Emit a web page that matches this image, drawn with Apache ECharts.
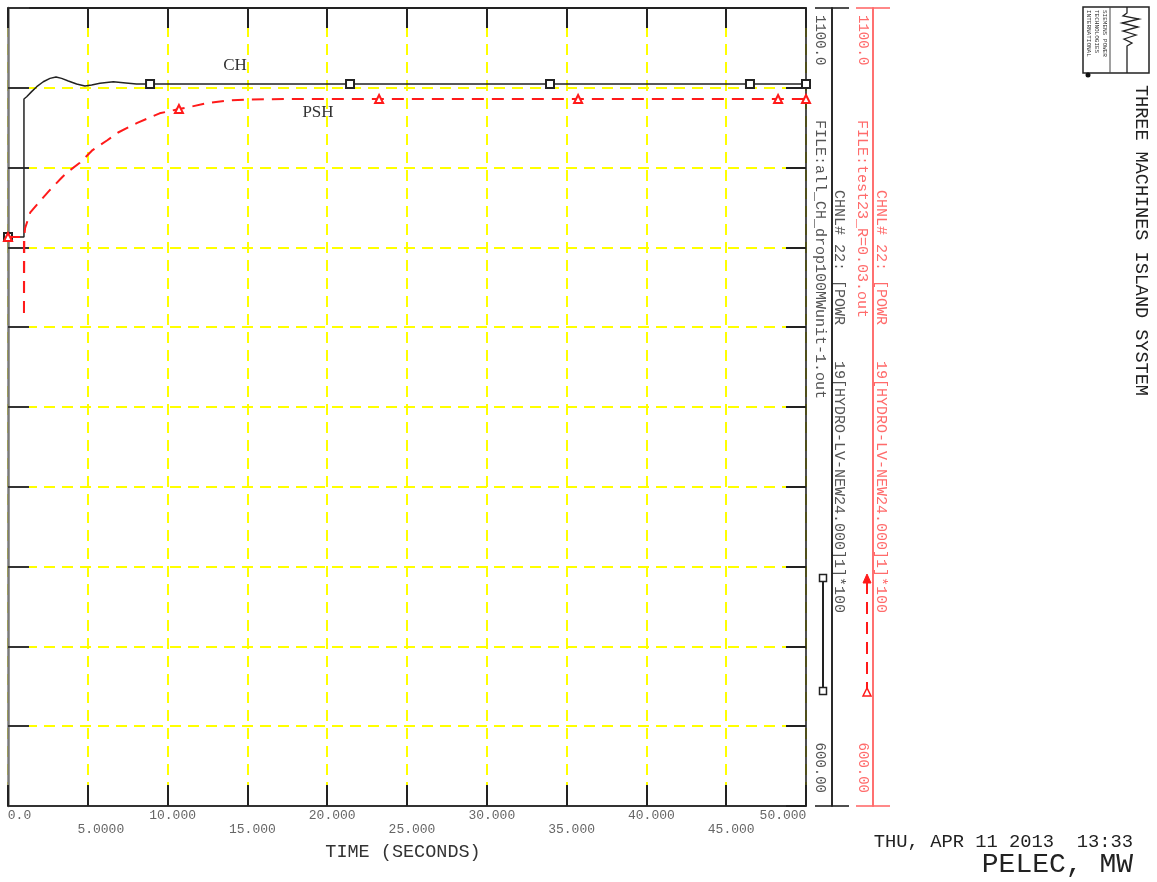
<!DOCTYPE html>
<html>
<head>
<meta charset="utf-8">
<title>PELEC, MW</title>
<script src="https://cdn.jsdelivr.net/npm/echarts@6/dist/echarts.min.js"></script>
<style>
  html, body { margin: 0; padding: 0; background: #ffffff; }
  #chart { width: 1157px; height: 882px; }
</style>
</head>
<body>
<div id="chart"></div>
<script>
// ---- data -------------------------------------------------------------
// time axis ticks (seconds) and their printed labels
const xTickLabels = ['0.0', '5.0000', '10.000', '15.000', '20.000', '25.000',
                     '30.000', '35.000', '40.000', '45.000', '50.000'];
// power axis end labels (MW), bottom then top
const yTickLabels = ['600.00', '1100.0'];

// CH electrical power (MW) vs time (s)
const chTime  = [0, 1.0, 1.0, 1.17, 1.48, 1.80, 2.21, 2.63, 3.01, 3.36, 3.78, 4.30,
                 4.82, 5.24, 5.76, 6.60, 7.22, 8.05, 8.90, 21.43, 33.96, 46.49, 50.0];
const chPower = [956.5, 956.5, 1043.0, 1044.4, 1047.6, 1050.7, 1053.8, 1055.9, 1056.8,
                 1055.9, 1054.3, 1052.4, 1051.1, 1051.8, 1052.8, 1053.8, 1053.2, 1052.4,
                 1052.4, 1052.4, 1052.4, 1052.4, 1052.4];
const chMarkTimes = [0, 8.90, 21.43, 33.96, 46.49, 50.0];

// PSH electrical power (MW) vs time (s)
const pshTime  = [0, 1.0, 1.0, 1.02, 1.07, 1.40, 2.00, 2.63, 3.30, 3.70, 4.50, 5.30,
                  6.20, 6.90, 8.10, 8.80, 9.50, 10.71, 11.40, 12.50, 13.70, 15.00,
                  17.60, 23.25, 35.72, 48.25, 50.0];
const pshPower = [956.5, 956.5, 906.4, 956.5, 962.0, 972.0, 979.0, 986.0, 993.0, 997.0,
                  1003.0, 1011.0, 1017.0, 1022.0, 1028.0, 1031.0, 1034.0, 1036.7, 1038.0,
                  1040.5, 1042.0, 1042.6, 1043.0, 1043.0, 1043.0, 1043.0, 1043.0];
const pshMarkTimes = [0, 10.71, 23.25, 35.72, 48.25, 50.0];

// ---- helpers ------------------------------------------------------------
const MONO = '"Liberation Mono", "DejaVu Sans Mono", monospace';
const SERIF = '"Liberation Serif", "DejaVu Serif", serif';
const RED = '#ff1a1a';
const RED_AXIS = '#ff6b6b';
const X_MIN = 0, X_MAX = 50, X_STEP = 5;
const Y_MIN = 600, Y_MAX = 1100, Y_STEP = 50;
const CHNL_TEXT = 'CHNL# 22: [POWR    19[HYDRO-LV-NEW24.000]1]*100';

function pointsWithMarkers(times, values, markTimes, symbol, size) {
  return times.map(function (t, i) {
    const item = { value: [t, values[i]] };
    const firstAtTime = !(i > 0 && times[i - 1] === t);
    if (firstAtTime && markTimes.indexOf(t) >= 0) {
      item.symbol = symbol;
      item.symbolSize = size;
    }
    return item;
  });
}

const hidden = { show: false };
function xBase(extra) {
  return Object.assign({
    type: 'value', min: X_MIN, max: X_MAX, interval: X_STEP,
    axisLine: { show: false, onZero: false }, axisTick: hidden,
    axisLabel: hidden, splitLine: hidden
  }, extra);
}
function yBase(extra) {
  return Object.assign({
    type: 'value', min: Y_MIN, max: Y_MAX, interval: Y_STEP,
    axisLine: { show: false, onZero: false }, axisTick: hidden,
    axisLabel: hidden, splitLine: hidden
  }, extra);
}

// side scale on the right: a vertical bar with short caps and rotated end labels
function sideScale(offset, color, labelColor, margin, showIndex, tickInside) {
  return yBase({
    position: 'right', offset: offset, interval: Y_MAX - Y_MIN, z: 1,
    axisLine: { show: true, onZero: false, lineStyle: { color: color, width: 1.6 } },
    axisTick: { show: true, inside: tickInside, length: 17, lineStyle: { color: color, width: 1.6 } },
    axisLabel: {
      show: true, inside: true, rotate: -90, margin: margin,
      align: showIndex === 1 ? 'left' : 'right', verticalAlign: 'middle',
      padding: showIndex === 1 ? [0, 0, 0, 7] : [0, 13, 0, 0],
      color: labelColor, fontFamily: MONO, fontSize: 14,
      showMinLabel: true, showMaxLabel: true,
      formatter: function (v) {
        const i = Math.round((v - Y_MIN) / (Y_MAX - Y_MIN));
        return i === showIndex ? yTickLabels[i] : '';
      }
    }
  });
}

const richBase = { fontFamily: MONO, fontSize: 13, color: '#666', lineHeight: 14 };

const option = {
  animation: false,
  backgroundColor: '#ffffff',
  textStyle: { fontFamily: MONO },
  grid: { left: 8, top: 8, width: 798, height: 798, containLabel: false, outerBoundsMode: 'none' },
  xAxis: [
    // dashed yellow grid
    xBase({ position: 'bottom', z: 0,
      splitLine: { show: true, lineStyle: { color: '#ffff00', width: 2, type: [11, 7] } } }),
    // bottom frame, ticks, labels, title
    xBase({ position: 'bottom', z: 1,
      axisLine: { show: true, onZero: false, lineStyle: { color: '#333', width: 2 } },
      axisTick: { show: true, inside: true, length: 21, lineStyle: { color: '#222', width: 2 } },
      axisLabel: {
        show: true, margin: 3, showMinLabel: true, showMaxLabel: true,
        fontFamily: MONO, fontSize: 13, color: '#666', lineHeight: 14,
        formatter: function (v) {
          const i = Math.round((v - X_MIN) / X_STEP);
          const last = xTickLabels.length - 1;
          const style = i === 0 ? 'first' : (i === last ? 'last' : (i === 1 ? 'second' : 'mid'));
          return (i % 2 ? '\n' : '') + '{' + style + '|' + xTickLabels[i] + '}';
        },
        rich: {
          first:  Object.assign({ padding: [0, 0, 0, 23] }, richBase),
          second: Object.assign({ padding: [0, 0, 0, 26] }, richBase),
          mid:    Object.assign({ padding: [0, 0, 0, 10] }, richBase),
          last:   Object.assign({ padding: [0, 46, 0, 0] }, richBase)
        }
      },
      name: 'TIME (SECONDS)', nameLocation: 'middle', nameGap: 37,
      nameTextStyle: { fontFamily: MONO, fontSize: 18.5, color: '#333', padding: [0, 8, 0, 0] }
    }),
    // top frame and ticks
    xBase({ position: 'top', z: 1,
      axisLine: { show: true, onZero: false, lineStyle: { color: '#222', width: 2 } },
      axisTick: { show: true, inside: true, length: 20, lineStyle: { color: '#222', width: 2 } } })
  ],
  yAxis: [
    // dashed yellow grid
    yBase({ position: 'left', z: 0,
      splitLine: { show: true, lineStyle: { color: '#ffff00', width: 2, type: [11, 7] } } }),
    // left frame and ticks
    yBase({ position: 'left', z: 1,
      axisLine: { show: true, onZero: false, lineStyle: { color: '#7a7a7a', width: 2.5 } },
      axisTick: { show: true, inside: true, length: 21, lineStyle: { color: '#333', width: 2 } } }),
    // right frame and ticks
    yBase({ position: 'right', z: 1,
      axisLine: { show: true, onZero: false, lineStyle: { color: '#222', width: 1.6 } },
      axisTick: { show: true, inside: true, length: 20, lineStyle: { color: '#222', width: 2 } } }),
    // CH scale bar
    sideScale(26, '#222', '#555', 12, 1, false),
    sideScale(26, '#222', '#555', 12, 0, true),
    // PSH scale bar
    sideScale(67, RED_AXIS, RED_AXIS, 10, 1, false),
    sideScale(67, RED_AXIS, RED_AXIS, 10, 0, true)
  ],
  series: [
    {
      name: 'CH', type: 'line', xAxisIndex: 0, yAxisIndex: 0, z: 3,
      symbol: 'none', showSymbol: true,
      data: pointsWithMarkers(chTime, chPower, chMarkTimes, 'emptyRect', 8),
      lineStyle: { color: '#222', width: 1.5 },
      itemStyle: { color: '#222', borderWidth: 1.5 },
      emphasis: { disabled: true }
    },
    {
      name: 'PSH', type: 'line', xAxisIndex: 0, yAxisIndex: 0, z: 4,
      symbol: 'none', showSymbol: true,
      data: pointsWithMarkers(pshTime, pshPower, pshMarkTimes, 'emptyTriangle', 8),
      lineStyle: { color: RED, width: 2, type: [12, 8] },
      itemStyle: { color: RED, borderWidth: 1.5 },
      emphasis: { disabled: true }
    }
  ],
  graphic: [
    // curve names
    { type: 'text', x: 235, y: 66, style: { text: 'CH', font: '17px ' + SERIF, fill: '#333', align: 'center', verticalAlign: 'middle' } },
    { type: 'text', x: 318, y: 113, style: { text: 'PSH', font: '17px ' + SERIF, fill: '#333', align: 'center', verticalAlign: 'middle' } },

    // channel descriptions beside the scale bars
    { type: 'text', x: 820, y: 120, rotation: -Math.PI / 2,
      style: { text: 'FILE:all_CH_drop100MWunit-1.out', font: '15px ' + MONO, fill: '#555', align: 'left', verticalAlign: 'middle' } },
    { type: 'text', x: 839, y: 190, rotation: -Math.PI / 2,
      style: { text: CHNL_TEXT, font: '15px ' + MONO, fill: '#555', align: 'left', verticalAlign: 'middle' } },
    { type: 'text', x: 862, y: 120, rotation: -Math.PI / 2,
      style: { text: 'FILE:test23_R=0.03.out', font: '15px ' + MONO, fill: RED_AXIS, align: 'left', verticalAlign: 'middle' } },
    { type: 'text', x: 881, y: 190, rotation: -Math.PI / 2,
      style: { text: CHNL_TEXT, font: '15px ' + MONO, fill: RED_AXIS, align: 'left', verticalAlign: 'middle' } },

    // line-style keys
    { type: 'line', shape: { x1: 823, y1: 578, x2: 823, y2: 691 }, style: { stroke: '#222', lineWidth: 2 } },
    { type: 'rect', shape: { x: 819.5, y: 574.5, width: 7, height: 7 }, style: { fill: '#fff', stroke: '#222', lineWidth: 1.5 } },
    { type: 'rect', shape: { x: 819.5, y: 687.5, width: 7, height: 7 }, style: { fill: '#fff', stroke: '#222', lineWidth: 1.5 } },
    { type: 'line', shape: { x1: 867, y1: 582, x2: 867, y2: 690 }, style: { stroke: RED, lineWidth: 2, lineDash: [12, 8] } },
    { type: 'polygon', shape: { points: [[867, 574], [863, 583], [871, 583]] }, style: { fill: RED, stroke: RED, lineWidth: 1 } },
    { type: 'polygon', shape: { points: [[867, 688], [863, 696], [871, 696]] }, style: { fill: '#fff', stroke: RED, lineWidth: 1.5 } },

    // heading
    { type: 'text', x: 1141, y: 85, rotation: -Math.PI / 2,
      style: { text: 'THREE MACHINES ISLAND SYSTEM', font: '18.5px ' + MONO, fill: '#222', align: 'left', verticalAlign: 'middle' } },
    { type: 'text', x: 1133, y: 842,
      style: { text: 'THU, APR 11 2013  13:33', font: '18.8px ' + MONO, fill: '#222', align: 'right', verticalAlign: 'middle' } },
    { type: 'text', x: 1133, y: 865,
      style: { text: 'PELEC, MW', font: '28px ' + MONO, fill: '#222', align: 'right', verticalAlign: 'middle' } },

    // company mark
    { type: 'rect', shape: { x: 1083, y: 7, width: 66, height: 66 }, style: { fill: 'none', stroke: '#222', lineWidth: 1.5 } },
    { type: 'line', shape: { x1: 1110, y1: 7, x2: 1110, y2: 73 }, style: { stroke: '#444', lineWidth: 1 } },
    { type: 'polyline', shape: { points: [[1127, 7], [1127, 13], [1123, 16], [1139, 19], [1122, 23], [1138, 27],
        [1123, 31], [1136, 35], [1124, 39], [1132, 43], [1127, 46], [1127, 73]] },
      style: { stroke: '#222', fill: 'none', lineWidth: 1.3 } },
    { type: 'circle', shape: { cx: 1088, cy: 75, r: 2.5 }, style: { fill: '#111' } },
    { type: 'text', x: 1105, y: 10, rotation: -Math.PI / 2,
      style: { text: 'SIEMENS POWER', font: '6px ' + MONO, fill: '#333', align: 'left', verticalAlign: 'middle' } },
    { type: 'text', x: 1097, y: 10, rotation: -Math.PI / 2,
      style: { text: 'TECHNOLOGIES', font: '6px ' + MONO, fill: '#333', align: 'left', verticalAlign: 'middle' } },
    { type: 'text', x: 1089, y: 10, rotation: -Math.PI / 2,
      style: { text: 'INTERNATIONAL', font: '6px ' + MONO, fill: '#333', align: 'left', verticalAlign: 'middle' } }
  ]
};

const chart = echarts.init(document.getElementById('chart'), null, { renderer: 'canvas' });
chart.setOption(option);
</script>
</body>
</html>
